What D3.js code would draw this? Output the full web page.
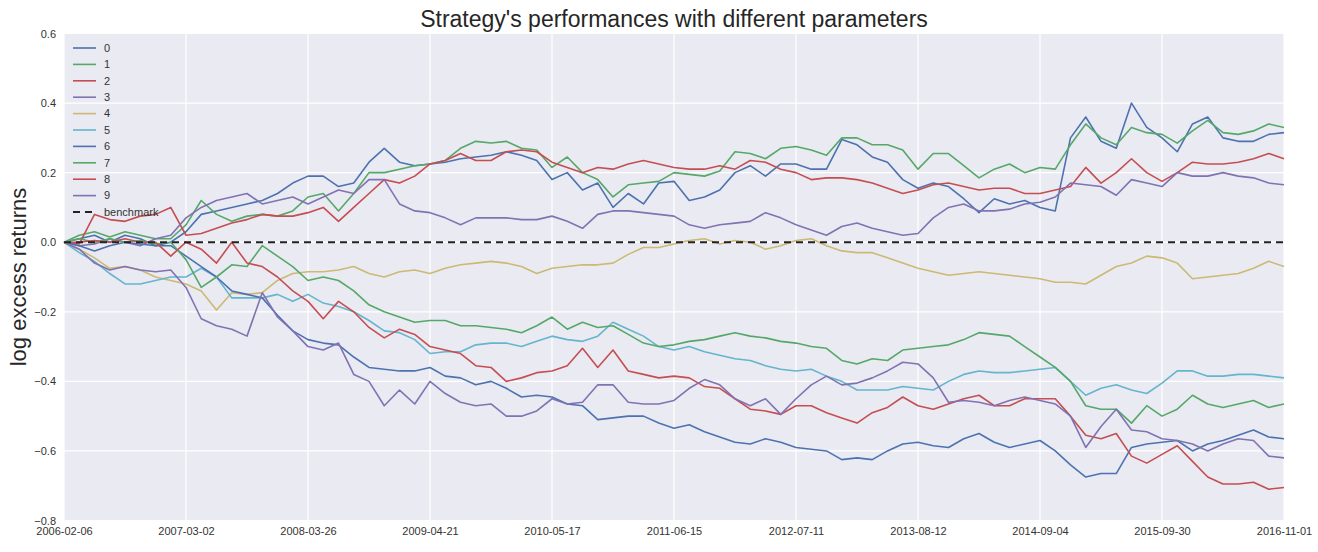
<!DOCTYPE html>
<html>
<head>
<meta charset="utf-8">
<script src="https://cdnjs.cloudflare.com/ajax/libs/d3/7.8.5/d3.min.js"></script>
<style>
  body { margin: 0; background: #fff; }
  svg { display: block; font-family: "Liberation Sans", Arial, sans-serif; }
</style>
</head>
<body>
<svg id="chart"></svg>
<script>
const width = 1318;
const height = 552;

// x axis is positional (trading-day index), labels sit on every 8th sample
const tickDates = ["2006-02-06", "2007-03-02", "2008-03-26", "2009-04-21", "2010-05-17",
  "2011-06-15", "2012-07-11", "2013-08-12", "2014-09-04", "2015-09-30", "2016-11-01"];
const yTicks = [0.6, 0.4, 0.2, 0.0, -0.2, -0.4, -0.6, -0.8];

const seriesNames = ["0", "1", "2", "3", "4", "5", "6", "7", "8", "9"];
const benchmarkValue = 0;

// log excess returns (81 samples per series)
const s0 = [0.0, 0.01, 0.02, 0.0, 0.02, 0.01, -0.01, 0.0, 0.03, 0.08,
  0.09, 0.1, 0.11, 0.12, 0.14, 0.17, 0.19, 0.19, 0.16, 0.17,
  0.23, 0.27, 0.23, 0.22, 0.225, 0.23, 0.24, 0.245, 0.25, 0.26,
  0.25, 0.235, 0.18, 0.2, 0.15, 0.17, 0.1, 0.14, 0.11, 0.17,
  0.175, 0.12, 0.13, 0.15, 0.2, 0.22, 0.19, 0.225, 0.225, 0.21,
  0.21, 0.295, 0.28, 0.245, 0.23, 0.18, 0.155, 0.17, 0.16, 0.125,
  0.085, 0.125, 0.11, 0.12, 0.1, 0.09, 0.3, 0.36, 0.29, 0.27,
  0.4, 0.33, 0.3, 0.26, 0.34, 0.36, 0.3, 0.29, 0.29, 0.31, 0.315];
const s1 = [0.0, 0.02, 0.03, 0.015, 0.03, 0.02, 0.01, 0.01, 0.05, 0.12,
  0.08, 0.06, 0.075, 0.08, 0.075, 0.09, 0.13, 0.14, 0.09, 0.14,
  0.2, 0.2, 0.21, 0.22, 0.225, 0.235, 0.27, 0.29, 0.285, 0.29,
  0.27, 0.265, 0.215, 0.245, 0.2, 0.18, 0.13, 0.165, 0.17, 0.175,
  0.2, 0.195, 0.19, 0.205, 0.26, 0.255, 0.24, 0.27, 0.275, 0.265,
  0.25, 0.3, 0.3, 0.28, 0.28, 0.265, 0.21, 0.255, 0.255, 0.22,
  0.185, 0.21, 0.225, 0.2, 0.215, 0.21, 0.28, 0.34, 0.3, 0.28,
  0.33, 0.315, 0.31, 0.285, 0.32, 0.35, 0.315, 0.31, 0.32, 0.34, 0.33];
const s2 = [0.0, -0.005, 0.08, 0.065, 0.06, 0.075, 0.08, 0.1, 0.02, 0.025,
  0.04, 0.055, 0.065, 0.08, 0.075, 0.075, 0.085, 0.1, 0.06, 0.1,
  0.14, 0.18, 0.17, 0.19, 0.225, 0.235, 0.255, 0.235, 0.235, 0.26,
  0.265, 0.26, 0.23, 0.215, 0.2, 0.215, 0.21, 0.225, 0.235, 0.225,
  0.215, 0.21, 0.21, 0.22, 0.21, 0.235, 0.23, 0.21, 0.2, 0.18,
  0.185, 0.185, 0.18, 0.17, 0.155, 0.14, 0.15, 0.165, 0.17, 0.16,
  0.15, 0.155, 0.155, 0.14, 0.14, 0.15, 0.16, 0.215, 0.17, 0.2,
  0.24, 0.2, 0.175, 0.2, 0.23, 0.225, 0.225, 0.23, 0.24, 0.255, 0.24];
const s3 = [0.0, -0.01, -0.005, 0.01, 0.0, -0.01, 0.01, 0.02, 0.07, 0.1,
  0.12, 0.13, 0.14, 0.11, 0.12, 0.13, 0.11, 0.13, 0.15, 0.14,
  0.18, 0.18, 0.11, 0.09, 0.085, 0.07, 0.05, 0.07, 0.07, 0.07,
  0.065, 0.065, 0.075, 0.06, 0.04, 0.08, 0.09, 0.09, 0.085, 0.08,
  0.075, 0.05, 0.04, 0.05, 0.055, 0.06, 0.085, 0.07, 0.05, 0.035,
  0.02, 0.045, 0.055, 0.04, 0.03, 0.02, 0.025, 0.07, 0.1, 0.11,
  0.09, 0.09, 0.095, 0.11, 0.115, 0.13, 0.17, 0.165, 0.16, 0.135,
  0.18, 0.17, 0.16, 0.2, 0.19, 0.19, 0.2, 0.19, 0.185, 0.17, 0.165];
const s4 = [0.0, -0.02, -0.045, -0.075, -0.07, -0.08, -0.1, -0.11, -0.12, -0.14,
  -0.195, -0.145, -0.15, -0.145, -0.11, -0.09, -0.085, -0.085, -0.08, -0.07,
  -0.09, -0.1, -0.085, -0.08, -0.09, -0.075, -0.065, -0.06, -0.055, -0.06,
  -0.07, -0.09, -0.075, -0.07, -0.065, -0.065, -0.06, -0.035, -0.015, -0.015,
  -0.005, 0.005, 0.01, -0.005, 0.005, 0.0, -0.02, -0.01, 0.005, 0.01,
  -0.01, -0.025, -0.03, -0.03, -0.045, -0.06, -0.075, -0.085, -0.095, -0.09,
  -0.085, -0.09, -0.095, -0.1, -0.105, -0.115, -0.115, -0.12, -0.095, -0.07,
  -0.06, -0.04, -0.045, -0.06, -0.105, -0.1, -0.095, -0.09, -0.075, -0.055, -0.07];
const s5 = [0.0, -0.03, -0.055, -0.09, -0.12, -0.12, -0.11, -0.1, -0.1, -0.075,
  -0.1, -0.16, -0.16, -0.16, -0.15, -0.17, -0.15, -0.175, -0.185, -0.2,
  -0.225, -0.255, -0.26, -0.28, -0.32, -0.315, -0.315, -0.295, -0.29, -0.29,
  -0.3, -0.285, -0.27, -0.28, -0.285, -0.27, -0.23, -0.25, -0.27, -0.3,
  -0.31, -0.3, -0.315, -0.325, -0.335, -0.34, -0.355, -0.365, -0.37, -0.365,
  -0.385, -0.4, -0.425, -0.425, -0.425, -0.415, -0.42, -0.425, -0.4, -0.38,
  -0.37, -0.375, -0.375, -0.37, -0.365, -0.36, -0.4, -0.44, -0.42, -0.41,
  -0.425, -0.435, -0.405, -0.37, -0.37, -0.385, -0.385, -0.38, -0.38, -0.385, -0.39];
const s6 = [0.0, -0.01, -0.025, -0.01, 0.0, -0.005, -0.01, -0.01, -0.04, -0.07,
  -0.1, -0.14, -0.15, -0.16, -0.21, -0.255, -0.28, -0.29, -0.295, -0.33,
  -0.36, -0.365, -0.37, -0.37, -0.36, -0.385, -0.39, -0.41, -0.4, -0.42,
  -0.445, -0.44, -0.445, -0.465, -0.47, -0.51, -0.505, -0.5, -0.5, -0.52,
  -0.535, -0.525, -0.545, -0.56, -0.575, -0.58, -0.565, -0.575, -0.59, -0.595,
  -0.6, -0.625, -0.62, -0.625, -0.6, -0.58, -0.575, -0.585, -0.59, -0.565,
  -0.55, -0.575, -0.59, -0.58, -0.57, -0.6, -0.64, -0.675, -0.665, -0.665,
  -0.59, -0.58, -0.575, -0.57, -0.6, -0.58, -0.57, -0.555, -0.54, -0.56, -0.565];
const s7 = [0.0, 0.01, 0.0, 0.01, 0.0, 0.005, -0.005, 0.0, -0.05, -0.13,
  -0.1, -0.065, -0.07, -0.01, -0.04, -0.07, -0.11, -0.1, -0.11, -0.14,
  -0.18, -0.2, -0.215, -0.23, -0.225, -0.225, -0.24, -0.24, -0.245, -0.25,
  -0.26, -0.24, -0.215, -0.25, -0.23, -0.245, -0.24, -0.265, -0.29, -0.3,
  -0.295, -0.285, -0.28, -0.27, -0.26, -0.27, -0.275, -0.285, -0.29, -0.3,
  -0.305, -0.34, -0.35, -0.335, -0.34, -0.31, -0.305, -0.3, -0.295, -0.28,
  -0.26, -0.265, -0.27, -0.3, -0.33, -0.36, -0.4, -0.47, -0.48, -0.48,
  -0.52, -0.47, -0.5, -0.48, -0.44, -0.465, -0.475, -0.465, -0.455, -0.475, -0.465];
const s8 = [0.0, 0.0, 0.005, 0.0, 0.01, 0.0, 0.0, -0.04, 0.0, -0.02,
  -0.06, 0.0, -0.06, -0.07, -0.1, -0.14, -0.17, -0.22, -0.17, -0.2,
  -0.245, -0.275, -0.25, -0.265, -0.3, -0.31, -0.32, -0.355, -0.36, -0.4,
  -0.39, -0.375, -0.37, -0.355, -0.305, -0.36, -0.31, -0.37, -0.38, -0.39,
  -0.385, -0.39, -0.415, -0.42, -0.45, -0.48, -0.485, -0.495, -0.47, -0.47,
  -0.49, -0.505, -0.52, -0.49, -0.475, -0.445, -0.47, -0.48, -0.465, -0.45,
  -0.44, -0.47, -0.47, -0.45, -0.45, -0.45, -0.5, -0.555, -0.565, -0.55,
  -0.615, -0.635, -0.61, -0.585, -0.63, -0.675, -0.695, -0.695, -0.69, -0.71, -0.705];
const s9 = [0.0, -0.02, -0.06, -0.08, -0.07, -0.08, -0.085, -0.08, -0.13, -0.22,
  -0.24, -0.25, -0.27, -0.145, -0.215, -0.255, -0.3, -0.31, -0.29, -0.38,
  -0.4, -0.47, -0.425, -0.465, -0.4, -0.435, -0.46, -0.47, -0.465, -0.5,
  -0.5, -0.485, -0.45, -0.465, -0.46, -0.41, -0.41, -0.46, -0.465, -0.465,
  -0.455, -0.42, -0.395, -0.41, -0.45, -0.47, -0.45, -0.495, -0.45, -0.41,
  -0.385, -0.41, -0.405, -0.39, -0.37, -0.345, -0.35, -0.39, -0.46, -0.455,
  -0.46, -0.47, -0.455, -0.445, -0.455, -0.465, -0.5, -0.59, -0.53, -0.48,
  -0.54, -0.545, -0.565, -0.57, -0.58, -0.6, -0.58, -0.565, -0.57, -0.615, -0.62];

const allSeries = [s0, s1, s2, s3, s4, s5, s6, s7, s8, s9];

// seaborn "deep" palette, cycled
const palette = ["#4C72B0", "#55A868", "#C44E52", "#8172B2", "#CCB974", "#64B5CD"];
const colorOf = i => palette[i % palette.length];

const plot = { left: 64, right: 1284, top: 33.5, bottom: 520.5 };
const nSteps = s0.length - 1;

const svg = d3.select("#chart")
  .attr("width", width)
  .attr("height", height);

svg.append("rect")
  .attr("width", width)
  .attr("height", height)
  .attr("fill", "#fff");

const x = d3.scaleLinear().domain([0, nSteps]).range([plot.left, plot.right]);
const y = d3.scaleLinear().domain([-0.8, 0.6]).range([plot.bottom, plot.top]);

const tickStep = nSteps / (tickDates.length - 1);
const xTickIdx = tickDates.map((d, i) => i * tickStep);

// axes background
svg.append("rect")
  .attr("x", plot.left)
  .attr("y", plot.top)
  .attr("width", plot.right - plot.left)
  .attr("height", plot.bottom - plot.top)
  .attr("fill", "#EAEAF2");

// white grid
const grid = svg.append("g").attr("stroke", "#fff").attr("stroke-width", 1.2);
grid.selectAll("line.gx")
  .data(xTickIdx)
  .enter().append("line")
  .attr("x1", d => x(d)).attr("x2", d => x(d))
  .attr("y1", plot.top).attr("y2", plot.bottom);
grid.selectAll("line.gy")
  .data(yTicks)
  .enter().append("line")
  .attr("x1", plot.left).attr("x2", plot.right)
  .attr("y1", d => y(d)).attr("y2", d => y(d));

// axes (tick labels only, seaborn darkgrid has no spines)
const xAxis = d3.axisBottom(x)
  .tickValues(xTickIdx)
  .tickFormat((d, i) => tickDates[i])
  .tickSize(0)
  .tickPadding(7);
const yAxis = d3.axisLeft(y)
  .tickValues(yTicks)
  .tickFormat(d => d3.format(".1f")(d).replace("-", "\u2212"))
  .tickSize(0)
  .tickPadding(8);

const gx = svg.append("g")
  .attr("transform", `translate(0,${plot.bottom})`)
  .call(xAxis);
const gy = svg.append("g")
  .attr("transform", `translate(${plot.left},0)`)
  .call(yAxis);

[gx, gy].forEach(g => {
  g.select(".domain").remove();
  g.selectAll("text")
    .attr("fill", "#333")
    .style("font-family", "'Liberation Sans', Arial, sans-serif")
    .style("font-size", "11px");
});

// series lines
const line = d3.line()
  .x((d, i) => x(i))
  .y(d => y(d));

svg.append("g")
  .selectAll("path.series")
  .data(allSeries)
  .enter().append("path")
  .attr("class", "series")
  .attr("d", d => line(d))
  .attr("fill", "none")
  .attr("stroke", (d, i) => colorOf(i))
  .attr("stroke-width", 1.6)
  .attr("stroke-linejoin", "round");

// benchmark
svg.append("line")
  .attr("x1", x(0)).attr("x2", x(nSteps))
  .attr("y1", y(benchmarkValue)).attr("y2", y(benchmarkValue))
  .attr("stroke", "#222")
  .attr("stroke-width", 2)
  .attr("stroke-dasharray", "7,5");

// legend, no frame
const legendItems = seriesNames.map((name, i) => ({ name, color: colorOf(i), dash: null }))
  .concat([{ name: "benchmark", color: "#222", dash: "7,5" }]);

const legend = svg.append("g").attr("transform", "translate(73,48)");
const li = legend.selectAll("g")
  .data(legendItems)
  .enter().append("g")
  .attr("transform", (d, i) => `translate(0,${i * 16.4})`);

li.append("line")
  .attr("x1", 0).attr("x2", 23)
  .attr("stroke", d => d.color)
  .attr("stroke-width", d => d.dash ? 2 : 1.6)
  .attr("stroke-dasharray", d => d.dash);

li.append("text")
  .attr("x", 31)
  .attr("dy", "0.35em")
  .attr("font-size", 11)
  .attr("fill", "#333")
  .text(d => d.name);

// title and y label
svg.append("text")
  .attr("x", (plot.left + plot.right) / 2)
  .attr("y", 27)
  .attr("text-anchor", "middle")
  .attr("font-size", 23)
  .attr("fill", "#262626")
  .text("Strategy's performances with different parameters");

svg.append("text")
  .attr("transform", `translate(26,${(plot.top + plot.bottom) / 2}) rotate(-90)`)
  .attr("text-anchor", "middle")
  .attr("font-size", 22)
  .attr("fill", "#262626")
  .text("log excess returns");
</script>
</body>
</html>
